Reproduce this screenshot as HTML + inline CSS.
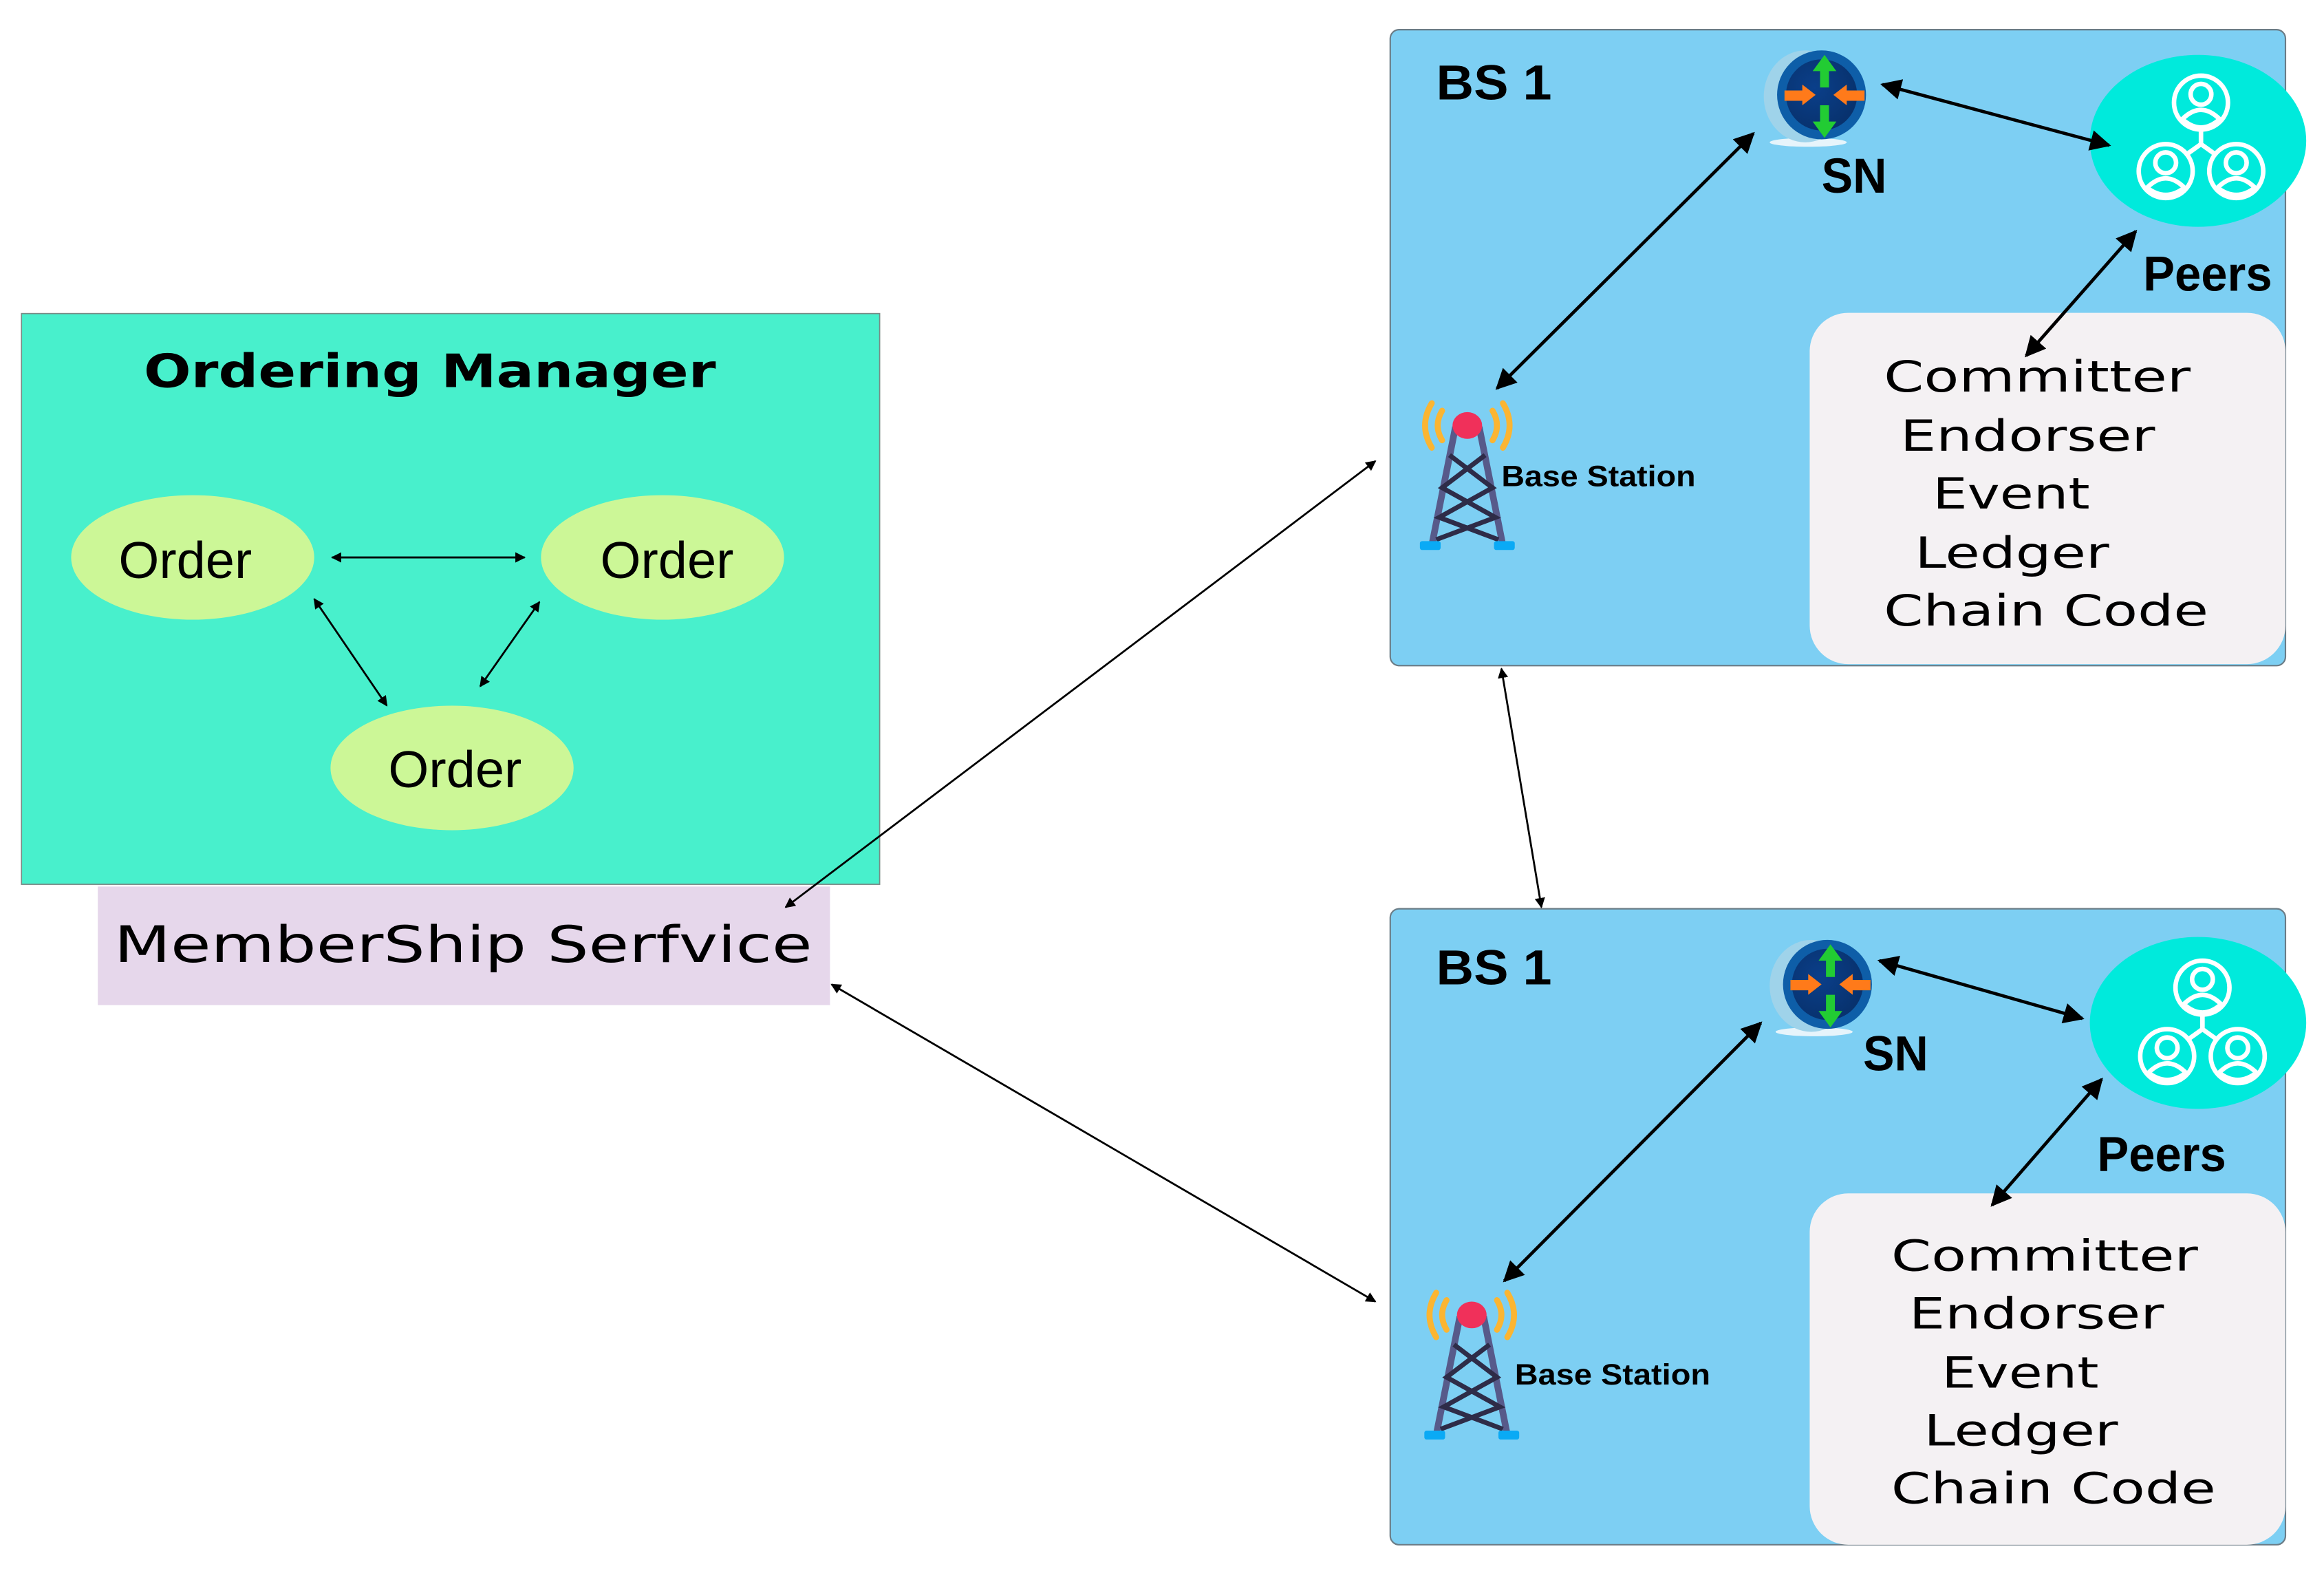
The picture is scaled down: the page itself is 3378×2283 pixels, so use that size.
<!DOCTYPE html>
<html><head><meta charset="utf-8"><style>html,body{margin:0;padding:0;background:#fff}svg{display:block}</style></head>
<body>
<svg width="3378" height="2283" viewBox="0 0 1568 1059.7" xmlns="http://www.w3.org/2000/svg">
<defs>
<marker id="a" viewBox="0 0 10 10" refX="9" refY="5" markerWidth="7" markerHeight="7" orient="auto-start-reverse" markerUnits="userSpaceOnUse"><path d="M0,0 L10,5 L0,10 z" fill="#000"/></marker>
<marker id="b" viewBox="0 0 10 10" refX="9" refY="5" markerWidth="18" markerHeight="14" orient="auto-start-reverse" markerUnits="userSpaceOnUse"><path d="M0,0 L10,5 L0,10 z" fill="#000"/></marker>
<radialGradient id="sng" cx="0.4" cy="0.4" r="0.7"><stop offset="0" stop-color="#0a3f8a"/><stop offset="1" stop-color="#08306a"/></radialGradient>
<g id="tower">
<path d="M-8,-14 L-24,66 M8,-14 L24,66" stroke="#575a8a" stroke-width="4.5" fill="none"/>
<path d="M-12,5 L17,27 L-19,47 L21,62 M12,5 L-17,27 L19,47 L-21,62" stroke="#2e2c48" stroke-width="3.2" fill="none"/>
<rect x="-32" y="63" width="14" height="6" rx="1.5" fill="#0aaaf5"/><rect x="18" y="63" width="14" height="6" rx="1.5" fill="#0aaaf5"/>
<ellipse cx="0" cy="-15" rx="10" ry="9" fill="#f0305a"/>
<path d="M-17,-25 Q-23,-15 -17,-5 M17,-25 Q23,-15 17,-5 M-24,-30 Q-33,-15 -24,0 M24,-30 Q33,-15 24,0" stroke="#fbb532" stroke-width="4" fill="none" stroke-linecap="round"/>
</g>
<g id="sn">
<ellipse cx="-6" cy="31" rx="26" ry="3" fill="#e6f4fb"/>
<ellipse cx="-8" cy="0" rx="28" ry="31" fill="#9fd3ea"/>
<circle cx="3" cy="-1" r="30" fill="#0e5ea8"/>
<circle cx="3" cy="-1" r="24" fill="url(#sng)"/>
<path d="M5,-28 L13,-17 L8,-17 L8,-6 L2,-6 L2,-17 L-3,-17 z" fill="#22cc33"/>
<path d="M5,28 L13,17 L8,17 L8,6 L2,6 L2,17 L-3,17 z" fill="#22cc33"/>
<path d="M-1,-1 L-10,-8 L-10,-4 L-22,-4 L-22,3 L-10,3 L-10,6 z" fill="#ff7a1a"/>
<path d="M11,-1 L20,-8 L20,-4 L32,-4 L32,3 L20,3 L20,6 z" fill="#ff7a1a"/>
</g>
<g id="peers" fill="none" stroke="#fff" stroke-width="2.2" transform="scale(1.4)">
<circle cx="0" cy="-17" r="13"/><circle cx="0" cy="-21" r="5"/><path d="M-9,-9 Q0,-18 9,-9 Q0,-1 -9,-9 z"/>
<circle cx="-17" cy="16" r="13"/><circle cx="-17" cy="12" r="5"/><path d="M-26,24 Q-17,15 -8,24 Q-17,31 -26,24 z"/>
<circle cx="17" cy="16" r="13"/><circle cx="17" cy="12" r="5"/><path d="M8,24 Q17,15 26,24 Q17,31 8,24 z"/>
<path d="M0,-4 L0,3 L-7,8 M0,3 L7,8"/>
</g>
</defs>

<rect x="14.5" y="211.5" width="579" height="385" fill="#48f0cc" stroke="#7a8a86" stroke-width="0.8"/>
<text x="290" y="261" text-anchor="middle" font-family="'DejaVu Sans','Liberation Sans',sans-serif" font-weight="bold" font-size="31" textLength="386" lengthAdjust="spacingAndGlyphs">Ordering Manager</text>
<ellipse cx="130" cy="376" rx="82" ry="42" fill="#ccf797"/>
<ellipse cx="447" cy="376" rx="82" ry="42" fill="#ccf797"/>
<ellipse cx="305" cy="518" rx="82" ry="42" fill="#ccf797"/>
<g font-family="'Liberation Sans Narrow','Liberation Sans',sans-serif" font-size="35">
<text x="80" y="390" textLength="90" lengthAdjust="spacingAndGlyphs">Order</text>
<text x="405" y="390" textLength="90" lengthAdjust="spacingAndGlyphs">Order</text>
<text x="262" y="531" textLength="90" lengthAdjust="spacingAndGlyphs">Order</text>
</g>
<g stroke="#000" stroke-width="1.3" marker-start="url(#a)" marker-end="url(#a)">
<line x1="224" y1="376" x2="354" y2="376"/>
<line x1="212" y1="404" x2="261" y2="476"/>
<line x1="364" y1="406" x2="324" y2="463"/>
</g>
<rect x="66" y="598" width="494" height="80" fill="#e6d7eb"/>
<text x="77" y="649" font-family="'DejaVu Sans','Liberation Sans',sans-serif" font-size="34" textLength="471" lengthAdjust="spacingAndGlyphs">MemberShip Serfvice</text>

<g stroke="#000" stroke-width="1.3" marker-start="url(#a)" marker-end="url(#a)">
<line x1="530" y1="612" x2="928" y2="311"/>
<line x1="561" y1="664" x2="928" y2="878"/>
<line x1="1013" y1="451" x2="1040" y2="612"/>
</g>

<rect x="938" y="20" width="604" height="429" rx="6" fill="#7dcff3" stroke="#6b7c86" stroke-width="1"/>
<rect x="1221" y="211" width="321" height="237" rx="26" fill="#f4f1f3"/>
<rect x="938" y="613" width="604" height="429" rx="6" fill="#7dcff3" stroke="#6b7c86" stroke-width="1"/>
<rect x="1221" y="805" width="321" height="237" rx="26" fill="#f4f1f3"/>

<ellipse cx="1483" cy="95" rx="73" ry="58" fill="#00eadc"/>
<ellipse cx="1483" cy="690" rx="73" ry="58" fill="#00eadc"/>
<use href="#peers" x="1485" y="93"/>
<use href="#peers" x="1486" y="690"/>
<use href="#sn" x="1226" y="65"/>
<use href="#sn" x="1230" y="665"/>
<use href="#tower" x="990" y="302"/>
<use href="#tower" x="993" y="902"/>

<g font-family="'Liberation Sans Narrow','Liberation Sans',sans-serif" font-weight="bold">
<text x="969" y="67" font-size="33" textLength="78" lengthAdjust="spacingAndGlyphs">BS  1</text>
<text x="969" y="664" font-size="33" textLength="78" lengthAdjust="spacingAndGlyphs">BS  1</text>
<text x="1229" y="130" font-size="33" textLength="44" lengthAdjust="spacingAndGlyphs">SN</text>
<text x="1257" y="722" font-size="33" textLength="44" lengthAdjust="spacingAndGlyphs">SN</text>
<text x="1446" y="196" font-size="33" textLength="87" lengthAdjust="spacingAndGlyphs">Peers</text>
<text x="1415" y="790" font-size="33" textLength="87" lengthAdjust="spacingAndGlyphs">Peers</text>
<text x="1013" y="328" font-size="20" textLength="131" lengthAdjust="spacingAndGlyphs">Base Station</text>
<text x="1022" y="934" font-size="20" textLength="132" lengthAdjust="spacingAndGlyphs">Base Station</text>
</g>

<g font-family="'DejaVu Sans','Liberation Sans',sans-serif" font-size="29">
<text x="1271" y="264" textLength="207" lengthAdjust="spacingAndGlyphs">Committer</text>
<text x="1282" y="304" textLength="172" lengthAdjust="spacingAndGlyphs">Endorser</text>
<text x="1304" y="343" textLength="106" lengthAdjust="spacingAndGlyphs">Event</text>
<text x="1292" y="383" textLength="131" lengthAdjust="spacingAndGlyphs">Ledger</text>
<text x="1271" y="422" textLength="219" lengthAdjust="spacingAndGlyphs">Chain Code</text>
<text x="1276" y="857" textLength="207" lengthAdjust="spacingAndGlyphs">Committer</text>
<text x="1288" y="896" textLength="172" lengthAdjust="spacingAndGlyphs">Endorser</text>
<text x="1310" y="936" textLength="106" lengthAdjust="spacingAndGlyphs">Event</text>
<text x="1298" y="975" textLength="131" lengthAdjust="spacingAndGlyphs">Ledger</text>
<text x="1276" y="1014" textLength="219" lengthAdjust="spacingAndGlyphs">Chain Code</text>
</g>

<g stroke="#000" stroke-width="2.2" marker-start="url(#b)" marker-end="url(#b)">
<line x1="1270" y1="57" x2="1423" y2="98"/>
<line x1="1183" y1="90" x2="1010" y2="262"/>
<line x1="1441" y1="156" x2="1367" y2="240"/>
<line x1="1268" y1="648" x2="1405" y2="687"/>
<line x1="1188" y1="690" x2="1015" y2="864"/>
<line x1="1418" y1="728" x2="1344" y2="813"/>
</g>
</svg>
</body></html>
